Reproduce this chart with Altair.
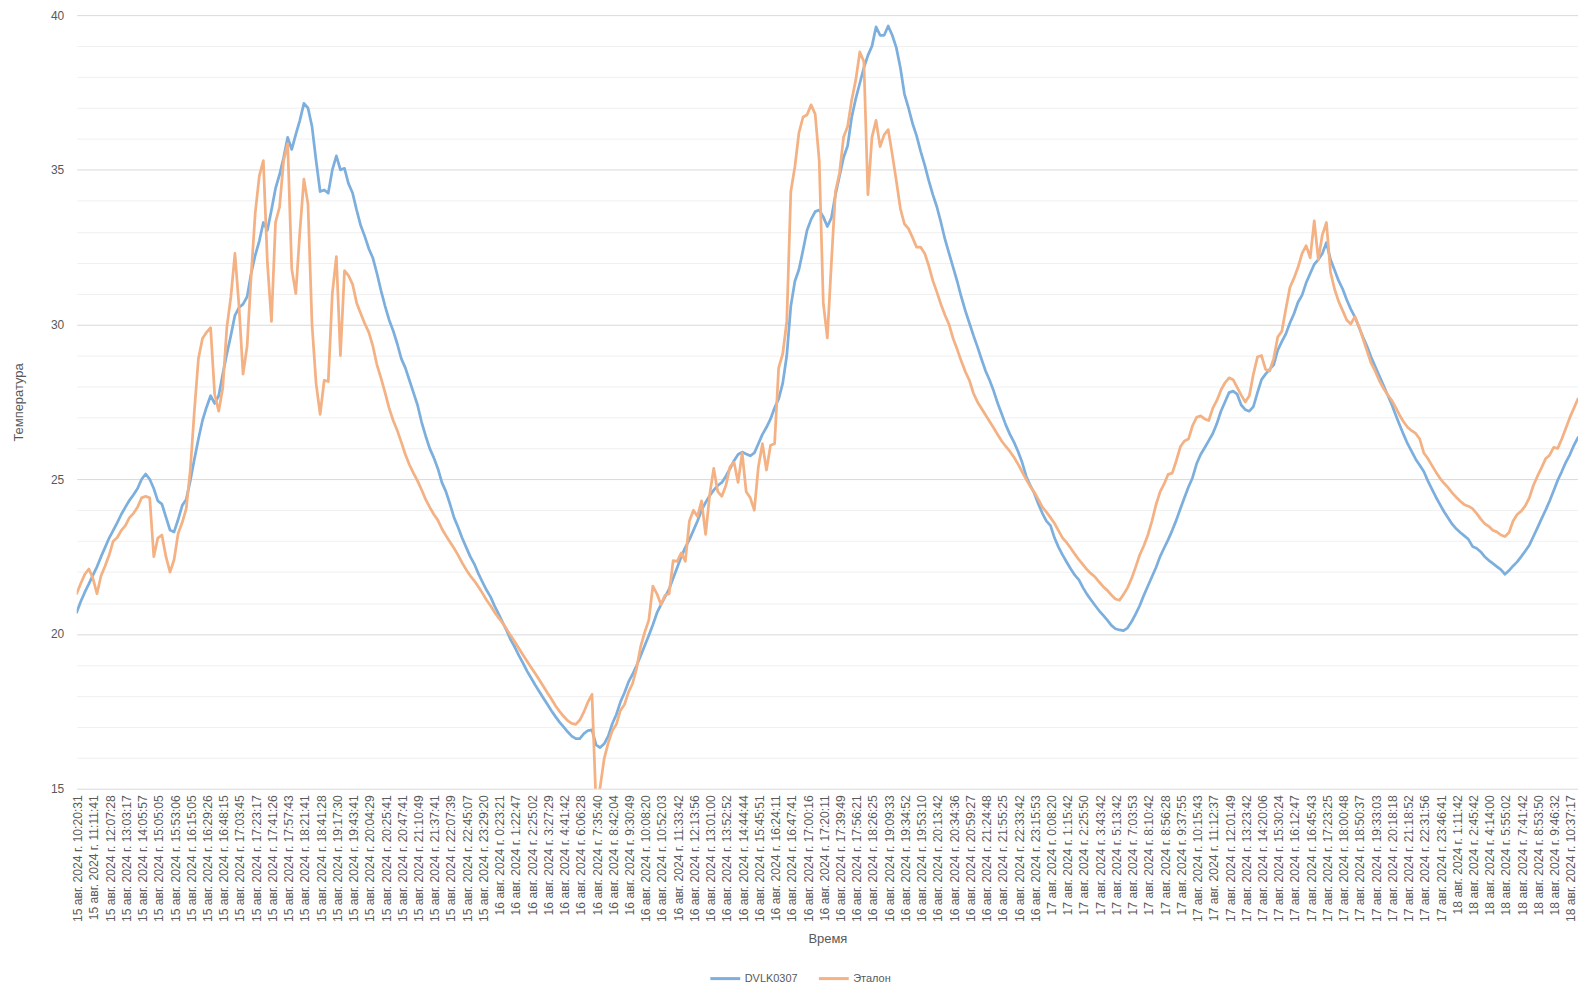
import altair as alt
import numpy as np
import pandas as pd

# ---- category axis labels (every labelled category of the original time axis) ----
day15 = ["10:20:31", "11:11:41", "12:07:28", "13:03:17", "14:05:57", "15:05:05", "15:53:06",
         "16:15:05", "16:29:26", "16:48:15", "17:03:45", "17:23:17", "17:41:26", "17:57:43",
         "18:21:41", "18:41:28", "19:17:30", "19:43:41", "20:04:29", "20:25:41", "20:47:41",
         "21:10:49", "21:37:41", "22:07:39", "22:45:07", "23:29:20"]
day16 = ["0:23:21", "1:22:47", "2:25:02", "3:27:29", "4:41:42", "6:06:28", "7:35:40", "8:42:04",
         "9:30:49", "10:08:20", "10:52:03", "11:33:42", "12:13:56", "13:01:00", "13:52:52",
         "14:44:44", "15:45:51", "16:24:11", "16:47:41", "17:00:16", "17:20:11", "17:39:49",
         "17:56:21", "18:26:25", "19:09:33", "19:34:52", "19:53:10", "20:13:42", "20:34:36",
         "20:59:27", "21:24:48", "21:55:25", "22:33:42", "23:15:53"]
day17 = ["0:08:20", "1:15:42", "2:25:50", "3:43:42", "5:13:42", "7:03:53", "8:10:42", "8:56:28",
         "9:37:55", "10:15:43", "11:12:37", "12:01:49", "13:23:42", "14:20:06", "15:30:24",
         "16:12:47", "16:45:43", "17:23:25", "18:00:48", "18:50:37", "19:33:03", "20:18:18",
         "21:18:52", "22:31:56", "23:46:41"]
day18 = ["1:11:42", "2:45:42", "4:14:00", "5:55:02", "7:41:42", "8:53:50", "9:46:32", "10:37:17"]

tick_labels = ([f"15 авг. 2024 г. {t}" for t in day15] + [f"16 авг. 2024 г. {t}" for t in day16]
               + [f"17 авг. 2024 г. {t}" for t in day17] + [f"18 авг. 2024 г. {t}" for t in day18])

# ---- series values, one sample every quarter of a label interval ----
dvlk = [
    20.7, 21.05, 21.35, 21.62, 21.9, 22.17, 22.5, 22.8, 23.1, 23.35, 23.6, 23.87,
    24.1, 24.32, 24.5, 24.7, 25.0, 25.17, 25.0, 24.7, 24.3, 24.2, 23.78, 23.36,
    23.3, 23.7, 24.15, 24.35, 24.95, 25.65, 26.3, 26.9, 27.33, 27.7, 27.45, 27.7,
    28.4, 29.05, 29.65, 30.3, 30.55, 30.66, 30.9, 31.65, 32.24, 32.7, 33.3, 33.05,
    33.7, 34.4, 34.85, 35.4, 36.05, 35.66, 36.15, 36.6, 37.15, 37.0, 36.4, 35.3,
    34.3, 34.35, 34.25, 35.0, 35.45, 35.0, 35.05, 34.55, 34.25, 33.7, 33.2, 32.85,
    32.45, 32.15, 31.65, 31.1, 30.6, 30.15, 29.8, 29.38, 28.9, 28.6, 28.2, 27.8,
    27.4, 26.85, 26.4, 26.0, 25.7, 25.35, 24.9, 24.6, 24.2, 23.76, 23.45, 23.1,
    22.8, 22.5, 22.26, 21.95, 21.68, 21.42, 21.2, 20.9, 20.64, 20.37, 20.1, 19.8,
    19.57, 19.3, 19.06, 18.8, 18.58, 18.35, 18.14, 17.93, 17.73, 17.52, 17.33, 17.15,
    17.0, 16.84, 16.7, 16.62, 16.62, 16.78, 16.88, 16.9, 16.42, 16.33, 16.45, 16.7,
    17.1, 17.4, 17.8, 18.1, 18.45, 18.7, 18.98, 19.3, 19.63, 19.95, 20.3, 20.68,
    20.95, 21.2, 21.45, 21.8, 22.15, 22.5, 22.8, 23.05, 23.35, 23.65, 24.0, 24.25,
    24.47, 24.65, 24.8, 24.9, 25.1, 25.34, 25.6, 25.8, 25.88, 25.82, 25.76, 25.85,
    26.15, 26.45, 26.68, 26.95, 27.31, 27.6, 28.1, 29.0, 30.6, 31.4, 31.78, 32.4,
    33.05, 33.4, 33.65, 33.7, 33.48, 33.17, 33.45, 34.2, 34.8, 35.4, 35.78, 36.7,
    37.3, 37.8, 38.3, 38.7, 39.0, 39.62, 39.35, 39.35, 39.65, 39.35, 38.95, 38.3,
    37.45, 37.0, 36.5, 36.1, 35.6, 35.15, 34.65, 34.2, 33.8, 33.3, 32.75, 32.3,
    31.85, 31.4, 30.9, 30.45, 30.05, 29.65, 29.28, 28.88, 28.5, 28.2, 27.85, 27.45,
    27.1, 26.75, 26.45, 26.2, 25.9, 25.55, 25.1, 24.8, 24.55, 24.2, 23.9, 23.65,
    23.5, 23.1, 22.8, 22.55, 22.32, 22.1, 21.9, 21.75, 21.5, 21.28, 21.1, 20.92,
    20.75, 20.6, 20.45, 20.28, 20.17, 20.13, 20.11, 20.2, 20.4, 20.65, 20.92, 21.25,
    21.55, 21.85, 22.15, 22.5, 22.78, 23.05, 23.35, 23.68, 24.05, 24.4, 24.75, 25.05,
    25.5, 25.8, 26.02, 26.25, 26.48, 26.8, 27.2, 27.5, 27.8, 27.85, 27.75, 27.4,
    27.25, 27.2, 27.35, 27.8, 28.22, 28.4, 28.55, 28.7, 29.17, 29.45, 29.7, 30.05,
    30.35, 30.72, 30.95, 31.35, 31.65, 31.95, 32.1, 32.3, 32.65, 32.1, 31.76, 31.42,
    31.15, 30.8, 30.5, 30.25, 29.92, 29.6, 29.3, 28.95, 28.65, 28.35, 28.05, 27.75,
    27.45, 27.1, 26.77, 26.45, 26.15, 25.9, 25.65, 25.45, 25.25, 24.95, 24.68, 24.42,
    24.18, 23.95, 23.75, 23.55, 23.4, 23.28, 23.17, 23.06, 22.83, 22.77, 22.66, 22.5,
    22.38, 22.28, 22.18, 22.08, 21.93, 22.05, 22.2, 22.33, 22.5, 22.68, 22.87, 23.15,
    23.43, 23.72, 24.0, 24.3, 24.63, 24.97, 25.25, 25.55, 25.8, 26.1, 26.35,
]

etalon = [
    21.31, 21.63, 21.93, 22.1, 21.8, 21.3, 21.88, 22.2, 22.55, 23.0, 23.12, 23.35,
    23.5, 23.76, 23.9, 24.1, 24.4, 24.45, 24.4, 22.5, 23.1, 23.2, 22.5, 22.0,
    22.4, 23.25, 23.6, 24.05, 25.3, 27.2, 28.9, 29.55, 29.75, 29.9, 27.75, 27.2,
    27.95, 29.9, 30.9, 32.3, 30.6, 28.4, 29.3, 31.6, 33.6, 34.8, 35.3, 32.0,
    30.1, 33.3, 33.8, 35.3, 35.85, 31.8, 31.0, 33.0, 34.7, 33.9, 30.0, 28.1,
    27.1, 28.2, 28.16, 31.0, 32.2, 29.0, 31.74, 31.58, 31.3, 30.7, 30.36, 30.03,
    29.75, 29.3, 28.7, 28.27, 27.8, 27.3, 26.9, 26.58, 26.2, 25.8, 25.47, 25.2,
    24.95, 24.66, 24.35, 24.1, 23.87, 23.68, 23.4, 23.18, 22.97, 22.77, 22.55, 22.3,
    22.08, 21.88, 21.72, 21.53, 21.32, 21.1, 20.91, 20.7, 20.52, 20.35, 20.15, 19.94,
    19.74, 19.53, 19.32, 19.12, 18.92, 18.72, 18.52, 18.31, 18.1, 17.9, 17.68, 17.5,
    17.34, 17.2, 17.11, 17.08, 17.22, 17.48, 17.8, 18.05, 14.5, 15.05, 15.97, 16.48,
    16.87, 17.08, 17.53, 17.72, 18.12, 18.4, 18.9, 19.6, 20.06, 20.45, 21.55, 21.3,
    20.95, 21.25, 21.3, 22.37, 22.35, 22.62, 22.35, 23.65, 24.0, 23.8, 24.3, 23.22,
    24.5, 25.35, 24.6, 24.45, 24.8, 25.4, 25.55, 24.9, 25.85, 24.6, 24.4, 24.0,
    25.4, 26.15, 25.3, 26.1, 26.15, 28.6, 29.05, 30.1, 34.3, 35.1, 36.2, 36.7,
    36.78, 37.1, 36.8, 35.3, 30.7, 29.57, 32.0, 34.3, 34.9, 36.06, 36.4, 37.26,
    37.9, 38.81, 38.5, 34.2, 36.06, 36.6, 35.75, 36.13, 36.3, 35.5, 34.65, 33.75,
    33.25, 33.1, 32.81, 32.5, 32.5, 32.3, 31.9, 31.42, 31.05, 30.65, 30.3, 30.0,
    29.55, 29.2, 28.82, 28.48, 28.2, 27.78, 27.5, 27.29, 27.08, 26.87, 26.66, 26.44,
    26.23, 26.06, 25.9, 25.71, 25.49, 25.24, 25.0, 24.77, 24.58, 24.35, 24.1, 23.94,
    23.76, 23.57, 23.33, 23.1, 22.95, 22.77, 22.58, 22.4, 22.24, 22.08, 21.95, 21.84,
    21.68, 21.53, 21.41, 21.26, 21.13, 21.09, 21.28, 21.5, 21.8, 22.17, 22.56, 22.85,
    23.2, 23.65, 24.18, 24.59, 24.85, 25.16, 25.2, 25.6, 26.05, 26.24, 26.3, 26.73,
    27.0, 27.05, 26.95, 26.9, 27.3, 27.55, 27.88, 28.12, 28.28, 28.22, 27.97, 27.72,
    27.5, 27.7, 28.4, 28.95, 29.0, 28.55, 28.5, 28.9, 29.6, 29.78, 30.5, 31.2,
    31.5, 31.85, 32.3, 32.55, 32.16, 33.35, 32.1, 32.9, 33.3, 31.7, 31.15, 30.75,
    30.45, 30.15, 30.02, 30.25, 29.95, 29.55, 29.15, 28.76, 28.5, 28.2, 27.95, 27.75,
    27.57, 27.34, 27.08, 26.86, 26.68, 26.57, 26.48, 26.3, 25.85, 25.67, 25.45, 25.23,
    25.03, 24.87, 24.73, 24.56, 24.42, 24.29, 24.18, 24.13, 24.05, 23.9, 23.72, 23.57,
    23.48, 23.35, 23.3, 23.2, 23.15, 23.28, 23.65, 23.86, 23.97, 24.14, 24.4, 24.8,
    25.1, 25.37, 25.66, 25.78, 26.03, 26.0, 26.3, 26.65, 27.0, 27.3, 27.6,
]

series_names = ["DVLK0307", "Эталон"]
series_colors = ["#7cafdd", "#f4b183"]
STEP = 0.25  # samples per label interval: 4

df = pd.concat([
    pd.DataFrame({"i": np.arange(len(dvlk)) * STEP, "t": dvlk, "s": series_names[0]}),
    pd.DataFrame({"i": np.arange(len(etalon)) * STEP, "t": etalon, "s": series_names[1]}),
], ignore_index=True)

x_end = (max(len(dvlk), len(etalon)) - 1) * STEP
label_expr = "[" + ",".join("'" + s + "'" for s in tick_labels) + "][datum.value]"

W, H = 1508, 777
FONT = "Liberation Sans"
GREY = "#595959"

chart = alt.Chart(df).mark_line(strokeWidth=2.75, clip=True, strokeJoin="round", strokeCap="round").encode(
    x=alt.X("i:Q", title="Время",
            scale=alt.Scale(domain=[0, x_end], nice=False, zero=False),
            axis=alt.Axis(values=list(range(len(tick_labels))), labelExpr=label_expr,
                          labelAngle=-90, labelAlign="right", labelBaseline="middle",
                          labelPadding=6, labelOffset=1, labelOverlap=False, labelFlush=False,
                          labelBound=False, labelFontSize=12.2, grid=False, ticks=False, domain=False,
                          titleX=W / 2, titleY=150, titleBaseline="middle", titleAlign="center")),
    y=alt.Y("t:Q", title="Температура",
            scale=alt.Scale(domain=[15, 40], nice=False, zero=False),
            axis=alt.Axis(values=list(range(15, 41)),
                          labelExpr="datum.value % 5 == 0 ? datum.label : ''",
                          gridColor={"condition": {"test": "datum.value % 5 == 0", "value": "#d9d9d9"},
                                     "value": "#f0f0f0"},
                          gridWidth=1, ticks=False, domain=False, labelPadding=13, labelFontSize=12,
                          titleX=-58, titleY=H / 2, titleAngle=-90,
                          titleBaseline="middle", titleAlign="center")),
    color=alt.Color("s:N", sort=series_names,
                    scale=alt.Scale(domain=series_names, range=series_colors),
                    legend=alt.Legend(title=None, orient="none", legendX=635, legendY=951,
                                      direction="horizontal", symbolType="stroke", symbolSize=900,
                                      symbolStrokeWidth=3, labelFontSize=11, labelColor=GREY,
                                      labelFont=FONT, columnPadding=14, labelOffset=3, padding=0)),
).properties(
    width=W, height=H,
    padding={"left": 69, "top": 5, "right": 0, "bottom": 198},
    autosize=alt.AutoSizeParams(type="none"),
    background="white",
).configure_view(stroke=None).configure_axis(
    labelFont=FONT, titleFont=FONT, labelColor=GREY, titleColor=GREY,
    titleFontWeight="normal", titleFontSize=13,
)

chart.save("out.html", embed_options={"renderer": "svg", "actions": False})
